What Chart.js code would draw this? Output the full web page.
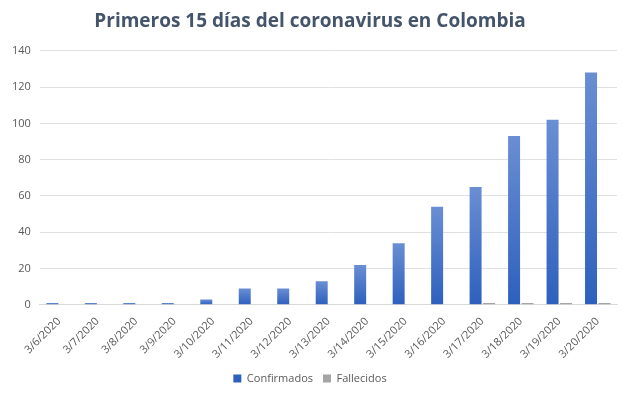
<!DOCTYPE html>
<html>
<head>
<meta charset="utf-8">
<script src="https://cdn.jsdelivr.net/npm/chart.js@4"></script>
<style>
  html, body { margin: 0; padding: 0; background: #fff; }
  #wrap { width: 629px; height: 394px; }
</style>
</head>
<body>
<div id="wrap"><canvas id="chart"></canvas></div>
<script>
const fechas = ['3/6/2020', '3/7/2020', '3/8/2020', '3/9/2020', '3/10/2020', '3/11/2020', '3/12/2020',
  '3/13/2020', '3/14/2020', '3/15/2020', '3/16/2020', '3/17/2020', '3/18/2020', '3/19/2020', '3/20/2020'];
const confirmados = [1, 1, 1, 1, 3, 9, 9, 13, 22, 34, 54, 65, 93, 102, 128];
const fallecidos = [0, 0, 0, 0, 0, 0, 0, 0, 0, 0, 0, 1, 1, 1, 1];
const yTicks = [0, 20, 40, 60, 80, 100, 120, 140];

const font = '"Open Sans", "Noto Sans", sans-serif';

// per-bar vertical gradient, lighter at the top like the Excel fill
function blueFill(ctx) {
  const chart = ctx.chart;
  const y = chart.scales.y;
  if (!y || ctx.parsed == null) return '#4472c4';
  const top = y.getPixelForValue(ctx.parsed.y);
  const bot = y.getPixelForValue(0);
  if (!isFinite(top) || bot - top < 1) return '#3a69c4';
  const g = chart.ctx.createLinearGradient(0, top, 0, bot);
  g.addColorStop(0, '#6a8ed3');
  g.addColorStop(1, '#2d60bd');
  return g;
}

new Chart(document.getElementById('chart'), {
  type: 'bar',
  data: {
    labels: fechas,
    datasets: [
      { label: 'Confirmados', data: confirmados, backgroundColor: blueFill, borderWidth: 0,
        categoryPercentage: 0.7, barPercentage: 0.89 },
      { label: 'Fallecidos', data: fallecidos, backgroundColor: '#a5a5a5', borderWidth: 0,
        categoryPercentage: 0.7, barPercentage: 0.89 },
    ]
  },
  options: {
    responsive: true,
    maintainAspectRatio: false,
    animation: false,
    layout: { padding: { left: 3, right: 12, top: 8, bottom: 0 } },
    plugins: {
      title: {
        display: true,
        text: 'Primeros 15 días del coronavirus en Colombia',
        color: '#44546a',
        font: { family: font, size: 19, weight: 'bold' },
        padding: { top: 2, bottom: 18 }
      },
      legend: {
        position: 'bottom',
        labels: {
          boxWidth: 8, boxHeight: 8, padding: 10,
          color: '#595959',
          font: { family: font, size: 11 }
        }
      },
      tooltip: { enabled: false }
    },
    scales: {
      x: {
        grid: { display: false },
        border: { color: '#d9d9d9' },
        ticks: {
          color: '#595959',
          font: { family: font, size: 11 },
          minRotation: 45, maxRotation: 45, autoSkip: false, padding: 2
        }
      },
      y: {
        min: 0, max: 140,
        afterBuildTicks: (axis) => { axis.ticks = yTicks.map(v => ({ value: v })); },
        grid: { color: '#e0e0e0', drawTicks: false },
        border: { display: false },
        ticks: {
          color: '#595959',
          font: { family: font, size: 11 },
          padding: 9
        }
      }
    }
  }
});
</script>
</body>
</html>
